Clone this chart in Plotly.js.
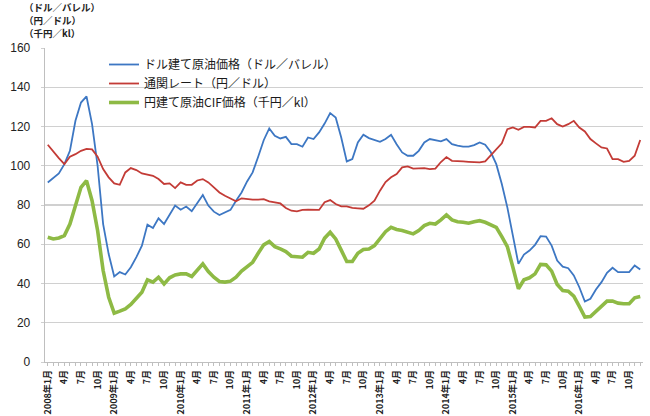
<!DOCTYPE html>
<html>
<head>
<meta charset="utf-8">
<script src="https://cdn.plot.ly/plotly-3.0.1.min.js"></script>
<style>html,body{margin:0;padding:0;background:#fff;}#chart{width:650px;height:416px;}</style>
</head>
<body>
<div id="chart"></div>
<script>
// Months Jan 2008 - Dec 2016
const years = [2008, 2009, 2010, 2011, 2012, 2013, 2014, 2015, 2016];
const monthNums = [1,2,3,4,5,6,7,8,9,10,11,12];
const labeledMonths = [1, 4, 7, 10];

const seriesNames = ["ドル建て原油価格（ドル／バレル）", "通関レート（円／ドル）", "円建て原油CIF価格（千円／kl）"];
const unitLabels = ["（ドル／バレル）", "（円／ドル）", "（千円／kl）"];

// ドル建て原油価格（ドル／バレル）
const usdPrice = [
  91.5, 93.6, 96.1, 100.8, 107.6, 122.9, 132.2, 135.3, 121.2, 100.0, 70.3, 55.0,
  43.6, 45.8, 44.6, 48.3, 53.4, 59.3, 70.0, 68.3, 73.2, 70.3, 74.9, 79.7,
  77.6, 79.2, 76.8, 81.0, 85.1, 79.7, 76.6, 74.9, 76.3, 77.5, 82.2, 86.4,
  92.0, 96.6, 104.6, 113.0, 119.0, 115.3, 113.9, 114.7, 111.0, 111.0, 109.7, 114.4,
  113.6, 117.0, 121.5, 126.8, 124.6, 114.4, 102.2, 103.4, 111.9, 115.8, 114.1, 113.2,
  112.2, 113.6, 115.8, 111.0, 106.8, 105.1, 105.1, 107.6, 111.9, 113.6, 113.1, 112.4,
  113.6, 111.0, 110.2, 109.7, 109.7, 110.5, 111.9, 110.7, 107.0, 100.8, 90.7, 78.8,
  64.4, 50.0, 54.7, 56.8, 59.7, 64.1, 63.9, 59.3, 51.7, 48.6, 47.8, 44.1,
  38.1, 30.8, 32.2, 36.9, 40.7, 45.4, 48.0, 45.8, 45.8, 45.8, 49.2, 47.1
];

// 通関レート（円／ドル）
const exRate = [
  110.7, 107.1, 103.9, 100.8, 104.6, 105.9, 107.6, 108.6, 108.3, 104.6, 98.3, 94.1,
  91.0, 90.3, 96.6, 98.8, 97.8, 96.1, 95.4, 94.9, 93.2, 90.7, 91.0, 88.6,
  91.5, 90.3, 90.3, 92.5, 93.2, 91.5, 89.0, 86.4, 84.7, 83.4, 81.9, 83.4,
  83.0, 82.7, 82.7, 83.0, 81.9, 81.4, 80.8, 78.5, 77.1, 76.8, 77.5, 77.6,
  77.5, 77.5, 81.4, 82.5, 80.5, 79.3, 79.3, 78.5, 78.3, 78.1, 79.8, 82.2,
  87.3, 91.7, 94.1, 95.8, 99.2, 99.7, 98.5, 98.5, 98.8, 98.3, 98.5, 101.9,
  104.4, 102.5, 102.2, 102.2, 102.0, 101.9, 101.7, 102.2, 105.3, 108.5, 111.4, 118.6,
  119.5, 118.3, 119.8, 119.8, 119.5, 122.9, 122.9, 124.2, 121.2, 120.0, 121.2, 122.9,
  119.5, 117.5, 113.6, 111.4, 109.3, 108.8, 103.4, 103.4, 102.0, 102.5, 105.1, 113.1
];

// 円建て原油CIF価格（千円／kl）
const jpyPrice = [
  63.6, 62.7, 63.2, 64.4, 70.3, 80.5, 89.0, 92.4, 82.2, 67.0, 46.6, 33.0,
  24.9, 25.9, 27.1, 29.3, 32.2, 35.6, 41.9, 40.7, 43.2, 39.8, 42.9, 44.4,
  44.9, 44.9, 43.6, 47.0, 50.0, 46.1, 43.2, 41.0, 40.7, 41.2, 43.2, 46.3,
  48.6, 50.8, 55.4, 59.7, 61.4, 58.8, 57.6, 56.3, 53.9, 53.7, 53.4, 55.9,
  55.4, 57.6, 63.1, 66.1, 62.7, 57.0, 51.2, 51.2, 55.4, 57.3, 57.6, 59.3,
  63.2, 66.4, 68.6, 67.5, 67.0, 66.1, 65.3, 67.0, 69.5, 70.7, 70.3, 72.4,
  74.9, 72.4, 71.5, 71.2, 70.7, 71.5, 72.0, 71.2, 70.0, 68.6, 63.9, 58.8,
  48.3, 37.3, 41.9, 42.9, 44.9, 49.7, 49.5, 46.3, 39.5, 36.4, 36.1, 33.6,
  28.3, 22.9, 23.2, 25.8, 28.0, 31.0, 31.0, 30.0, 29.7, 29.7, 32.7, 33.4
];

const yTicks = [0, 20, 40, 60, 80, 100, 120, 140, 160];

// Build categories and tick labels
const categories = [];
const tickText = [];
years.forEach(y => monthNums.forEach(m => {
  categories.push(y + "年" + m + "月");
  if (m === 1) tickText.push(y + "年1月");
  else if (labeledMonths.indexOf(m) >= 0) tickText.push(m + "月");
  else tickText.push("");
}));

const jp = "'Noto Sans CJK JP', 'Liberation Sans', sans-serif";
const num = "'Liberation Sans', 'Noto Sans CJK JP', sans-serif";

const traces = [
  {x: categories, y: usdPrice, name: seriesNames[0], type: "scatter", mode: "lines",
   line: {color: "#3D77C3", width: 1.8}},
  {x: categories, y: exRate, name: seriesNames[1], type: "scatter", mode: "lines",
   line: {color: "#C33B36", width: 1.8}},
  {x: categories, y: jpyPrice, name: seriesNames[2], type: "scatter", mode: "lines",
   line: {color: "#8EBA45", width: 3.6}}
];

// plot area: x 45..643 px, y 48..362 px
const W = 598, H = 314, L = 45, T = 48;
const px = v => (v - L) / W;
const py = v => (T + H - v) / H;

const annotations = unitLabels.map((t, k) => ({
  xref: "paper", yref: "paper", x: px(22), y: py(7 + 13 * k),
  xanchor: "left", yanchor: "middle", showarrow: false, text: t,
  font: {family: jp, size: 9.5, color: "#222", weight: "bold"}
}));

const layout = {
  width: 650, height: 416,
  margin: {l: 45, r: 7, t: 48, b: 54, pad: 0},
  paper_bgcolor: "#fff", plot_bgcolor: "#fff",
  showlegend: true,
  legend: {x: px(104), y: py(50), xanchor: "left", yanchor: "top",
           bgcolor: "rgba(255,255,255,0)", borderwidth: 0,
           font: {family: jp, size: 12, color: "#1a1a1a"},
           tracegroupgap: 0},
  shapes: [
    {type: "rect", xref: "paper", yref: "paper", layer: "between",
     x0: px(114), x1: px(338), y0: py(56), y1: py(106),
     fillcolor: "#fff", line: {width: 0}}
  ],
  xaxis: {
    type: "category", range: [-0.5, categories.length - 0.5],
    tickmode: "array", tickvals: categories, ticktext: tickText,
    tickangle: -90, ticks: "outside", ticklen: 3, tickcolor: "#bfbfbf", tickwidth: 1,
    showgrid: false, showline: true, linecolor: "#bfbfbf", linewidth: 1.3,
    tickfont: {family: jp, size: 9, color: "#222", weight: "bold"},
    zeroline: false, fixedrange: true
  },
  yaxis: {
    range: [0, 160], tickmode: "array", tickvals: yTicks,
    ticks: "outside", ticklen: 3, tickcolor: "#cfcfcf",
    showgrid: true, gridcolor: "#d0d0d0", gridwidth: 1.3,
    showline: true, linecolor: "#bfbfbf", linewidth: 1.3,
    zeroline: false, ticklabelstandoff: 8,
    tickfont: {family: num, size: 12, color: "#222"}
  },
  annotations: annotations
};

Plotly.newPlot("chart", traces, layout, {displayModeBar: false, staticPlot: true});
</script>
</body>
</html>
